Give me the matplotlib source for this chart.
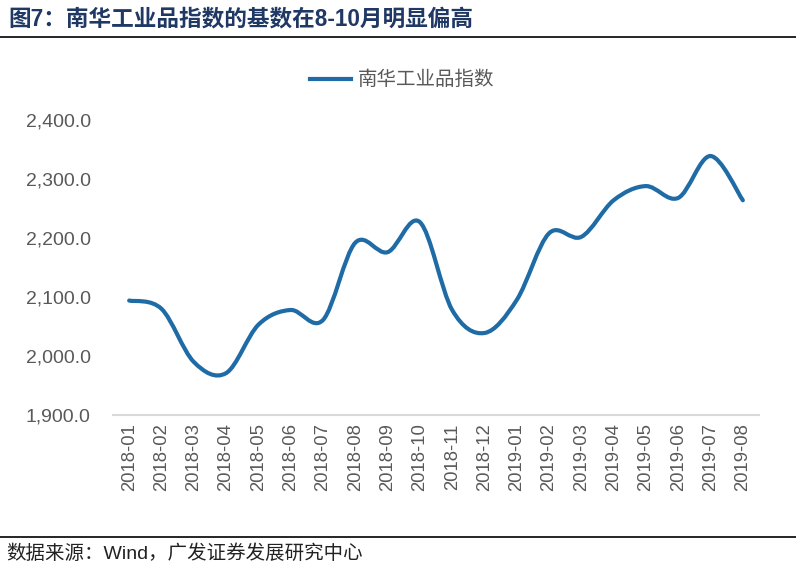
import numpy as np
import matplotlib.pyplot as plt
from matplotlib.path import Path
from matplotlib.patches import PathPatch
from matplotlib.lines import Line2D
from matplotlib.ticker import FuncFormatter

plt.rcParams['font.family'] = ['Liberation Sans', 'Noto Sans CJK SC', 'DejaVu Sans']

months = ['2018-01', '2018-02', '2018-03', '2018-04', '2018-05', '2018-06', '2018-07',
          '2018-08', '2018-09', '2018-10', '2018-11', '2018-12', '2019-01', '2019-02',
          '2019-03', '2019-04', '2019-05', '2019-06', '2019-07', '2019-08']
nanhua = [2094, 2080, 1990, 1971, 2053, 2078, 2061, 2192, 2176, 2227,
          2078, 2039, 2095, 2208, 2202, 2264, 2288, 2268, 2339, 2264]
yticks = [1900, 2000, 2100, 2200, 2300, 2400]

line_color = '#1F6BA5'

fig = plt.figure(figsize=(7.96, 5.71), dpi=100)
ax = fig.add_axes([0.142, 0.2732, 0.8115, 0.5166])

# smoothed line like Excel: cubic bezier through the monthly points
x = np.arange(len(months), dtype=float)
y = np.array(nanhua, dtype=float)
pts = np.column_stack([x, y])
verts = [pts[0]]
codes = [Path.MOVETO]
n = len(pts)
for i in range(n - 1):
    p0 = pts[i - 1] if i > 0 else pts[i]
    p1 = pts[i]
    p2 = pts[i + 1]
    p3 = pts[i + 2] if i + 2 < n else pts[i + 1]
    c1 = p1 + (p2 - p0) / 6.0
    c2 = p2 - (p3 - p1) / 6.0
    verts += [c1, c2, p2]
    codes += [Path.CURVE4] * 3
ax.add_patch(PathPatch(Path(verts, codes), fill=False, edgecolor=line_color,
                       lw=3, capstyle='round', joinstyle='round'))

ax.set_xlim(-0.5, len(months) - 0.5)
ax.set_ylim(1900, 2400)
ax.set_yticks(yticks)
ax.yaxis.set_major_formatter(FuncFormatter(lambda v, p: f'{v:,.1f}'))
ax.set_xticks(x)
ax.set_xticklabels(months, rotation=90)

for s in ['top', 'right', 'left']:
    ax.spines[s].set_visible(False)
ax.spines['bottom'].set_color('#D9D9D9')
ax.spines['bottom'].set_linewidth(1.5)
ax.tick_params(axis='both', length=0, labelcolor='#595959')
ax.tick_params(axis='y', labelsize=14, pad=16)
ax.tick_params(axis='x', labelsize=13.3, pad=6)

leg_handle = Line2D([0], [0], color=line_color, lw=3)
fig.legend([leg_handle], ['南华工业品指数'], loc='center', bbox_to_anchor=(0.505, 0.86),
           frameon=False, handlelength=2.1, handletextpad=0.35,
           prop={'family': ['Noto Sans CJK SC'], 'size': 14}, labelcolor='#595959')

fig.text(0.01, 0.967, '图7：南华工业品指数的基数在8-10月明显偏高', fontsize=16.3,
         fontweight='bold', color='#1F3864', va='center', ha='left',
         family=['Liberation Sans', 'Noto Sans CJK SC'])
fig.add_artist(Line2D([0.0, 1.0], [0.935, 0.935], color='black', lw=1.2,
                      transform=fig.transFigure))
fig.add_artist(Line2D([0.0, 1.0], [0.06, 0.06], color='black', lw=1.2,
                      transform=fig.transFigure))
fig.text(0.008, 0.031, '数据来源：Wind，广发证券发展研究中心', fontsize=14,
         color='#222222', va='center', ha='left',
         family=['Liberation Sans', 'Noto Sans CJK SC'])

fig.savefig('out.png', dpi=100)
